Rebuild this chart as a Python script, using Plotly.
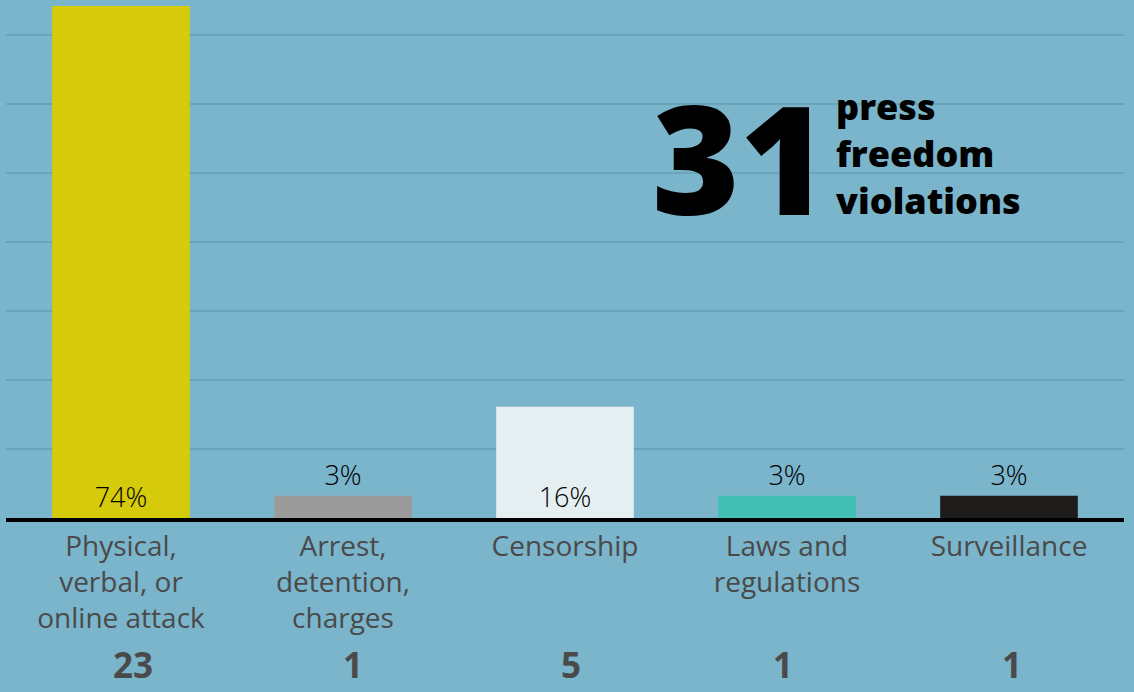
import plotly.graph_objects as go

# ---- data ----
categories = [
    "Physical,<br>verbal, or<br>online attack",
    "Arrest,<br>detention,<br>charges",
    "Censorship",
    "Laws and<br>regulations",
    "Surveillance",
]
counts = [23, 1, 5, 1, 1]
total_violations = 31
bar_colors = ["#D6CB0A", "#9B9B9B", "#E5EEF0", "#41BFB5", "#1E1C1B"]
label_positions = ["inside", "outside", "inside", "outside", "outside"]
count_xshift = [12, 10, 6, -4, 3]

percents = [c / total_violations * 100 for c in counts]
pct_text = [f"{round(p)}%" for p in percents]

BG = "#7AB5CC"
GRID = "#69A4BB"
LABEL_GRAY = "#4A4A4A"
FONT = "Open Sans"

fig = go.Figure()
fig.add_trace(go.Bar(
    x=categories,
    y=percents,
    width=0.62,
    marker=dict(color=bar_colors, line=dict(width=0)),
    text=pct_text,
    textposition=label_positions,
    insidetextanchor="start",
    textangle=0,
    constraintext="none",
    textfont=dict(family=FONT, size=27, color="#000000", weight=300),
    cliponaxis=False,
    hoverinfo="skip",
))

annotations = []
for cat, c, dx in zip(categories, counts, count_xshift):
    annotations.append(dict(
        x=cat, xref="x", y=0, yref="paper", yanchor="bottom",
        yshift=-172, xshift=dx, showarrow=False,
        text=f"<b>{c}</b>",
        font=dict(family=FONT, size=35, color=LABEL_GRAY),
    ))

annotations.append(dict(
    x=(830 - 6) / 1118, xref="paper", xanchor="right",
    y=(518 - 157) / 512, yref="paper", yanchor="middle",
    showarrow=False, text=f"{total_violations}",
    font=dict(family=FONT, size=150, color="#000000", weight=800),
))
annotations.append(dict(
    x=(834 - 6) / 1118, xref="paper", xanchor="left",
    y=(518 - 80) / 512, yref="paper", yanchor="top",
    showarrow=False, align="left",
    text="press<br>freedom<br>violations",
    font=dict(family=FONT, size=36, color="#000000", weight=800),
))

fig.update_layout(
    width=1134, height=692, autosize=False,
    margin=dict(l=6, r=10, t=6, b=174),
    paper_bgcolor=BG, plot_bgcolor=BG,
    showlegend=False,
    bargap=0.38,
    annotations=annotations,
    font=dict(family=FONT),
)
fig.update_xaxes(
    type="category",
    range=[-0.518, 4.518],
    showline=True, linecolor="#000000", linewidth=4,
    ticks="", showgrid=False, zeroline=False,
    tickfont=dict(family=FONT, size=28, color=LABEL_GRAY),
    fixedrange=True,
)
fig.update_yaxes(
    range=[0, 74.2],
    dtick=10, showgrid=True, gridcolor=GRID, gridwidth=2,
    showticklabels=False, ticks="", zeroline=False, showline=False,
    fixedrange=True,
)

fig.write_html("out.html", config={"displayModeBar": False})
